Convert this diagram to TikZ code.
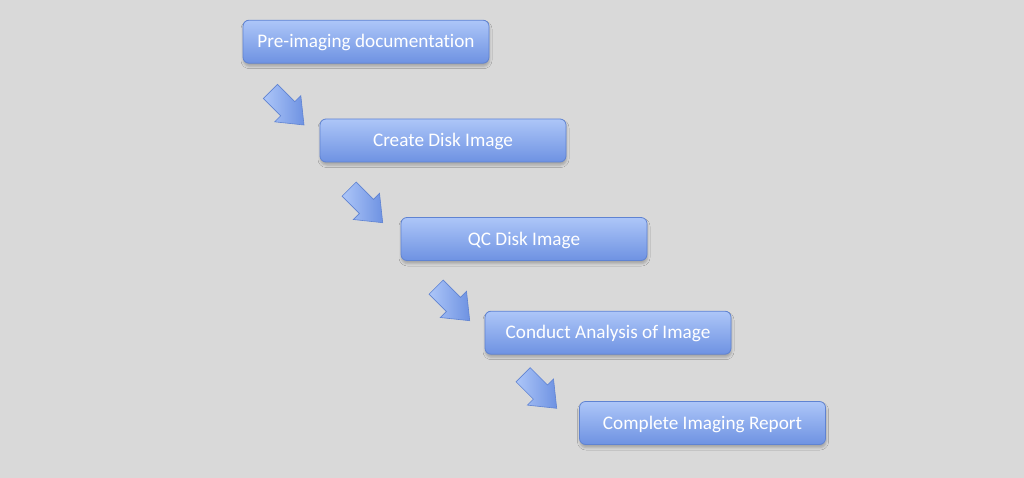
\documentclass[tikz,border=0pt]{standalone}
\usepackage{fontspec}
\setmainfont[Ligatures=NoCommon]{Carlito}
\usetikzlibrary{shadows.blur}
\definecolor{bg}{HTML}{D9D9D9}
\definecolor{boxtop}{HTML}{ADC6F8}
\definecolor{boxbot}{HTML}{6E92E2}
\definecolor{boxline}{HTML}{5F83D2}
\begin{document}
\begin{tikzpicture}[x=1pt,y=-1pt,
  stepbox/.style={rectangle, rounded corners=6pt, draw=boxline, line width=0.8pt,
    top color=boxtop, bottom color=boxbot, minimum width=246pt, minimum height=43pt,
    inner sep=0pt, text height=12.4pt, text depth=0pt, text=white, font=\fontsize{19.2}{22}\selectfont,
    blur shadow={shadow xshift=0.5pt, shadow yshift=-3pt, shadow blur radius=2.5pt, shadow opacity=25}},
  blockarrow/.style={draw=boxline, line width=0.6pt, left color=boxtop, right color=boxbot,
    line join=miter}]
\fill[bg] (0,0) rectangle (1024,478);
\useasboundingbox (0,0) rectangle (1024,478);
\node[stepbox] (b1) at (366,41.7) {Pre-imaging documentation};
\node[stepbox] (b2) at (443,140.5) {Create Disk Image};
\node[stepbox] (b3) at (524,239) {QC Disk Image};
\node[stepbox] (b4) at (608,332.7) {Conduct Analysis of Image};
\node[stepbox] (b5) at (702.5,423) {Complete Imaging Report};
\coordinate (t1) at (304,125);
\coordinate (t2) at (382.7,222.7);
\coordinate (t3) at (469.7,320.7);
\coordinate (t4) at (556.7,408.3);
\foreach \t in {t1,t2,t3,t4}{
  \path[blockarrow, shift={(\t)}, rotate=-45]
    (-47.5,-10) -- (-23,-10) -- (-23,-18.5) -- (0,0) -- (-23,18.5) -- (-23,10) -- (-47.5,10) -- cycle;
}
\end{tikzpicture}
\end{document}
